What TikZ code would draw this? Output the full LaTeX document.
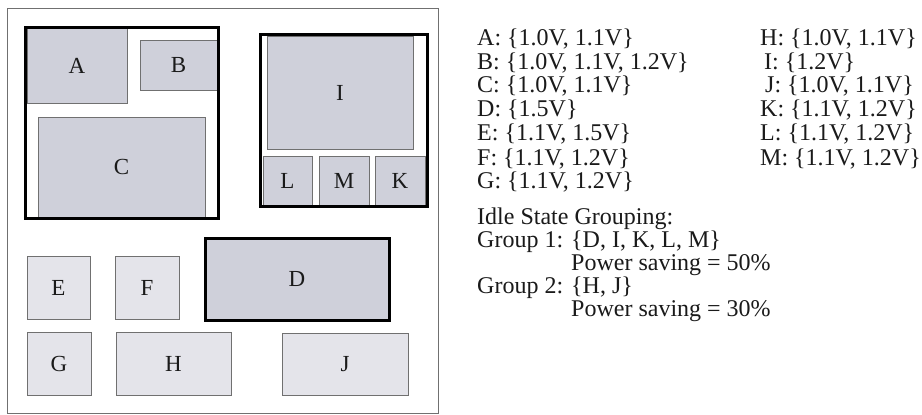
\documentclass[tikz,border=0pt]{standalone}
\usepackage{fontspec}
\setmainfont{Liberation Serif}
\definecolor{darkfill}{HTML}{CFD0DA}
\definecolor{lightfill}{HTML}{E4E4EA}
\definecolor{thinline}{HTML}{707070}
\definecolor{ink}{HTML}{1A1A1A}
\begin{document}
\begin{tikzpicture}[x=1pt,y=-1pt,
  blk/.style={draw=thinline, line width=0.8pt, inner sep=0pt, outer sep=0pt, anchor=north west, text=ink, font=\fontsize{23}{23}\selectfont},
  dk/.style={blk, fill=darkfill},
  lt/.style={blk, fill=lightfill},
  grp/.style={draw=black, line width=3pt, inner sep=0pt, outer sep=0pt, anchor=north west},
  txt/.style={anchor=west, inner sep=0pt, text=ink, font=\fontsize{24}{24}\selectfont}]
\useasboundingbox (0,0) rectangle (922,415);
\node[draw=thinline, line width=1pt, minimum width=431pt, minimum height=405pt, anchor=north west, inner sep=0pt] (frame) at (7,8) {};
% group 1
\node[dk, minimum width=100pt, minimum height=75pt] (A) at (27,28) {A};
\node[dk, minimum width=77pt, minimum height=50pt] (B) at (140,40) {B};
\node[dk, minimum width=167pt, minimum height=100pt] (C) at (38,117) {C};
\node[grp, minimum width=193pt, minimum height=191pt] (G1) at (25,27) {};
% group 2
\node[dk, minimum width=146pt, minimum height=113pt] (I) at (267,36) {I};
\node[dk, minimum width=49pt, minimum height=49pt] (L) at (263,156) {L};
\node[dk, minimum width=50pt, minimum height=49pt] (M) at (319,156) {M};
\node[dk, minimum width=50pt, minimum height=49pt] (K) at (375,156) {K};
\node[grp, minimum width=167pt, minimum height=172pt] (G2) at (260,34) {};
% D
\node[dk, draw=black, line width=3pt, minimum width=184pt, minimum height=82pt] (D) at (205,238) {D};
% light
\node[lt, minimum width=63pt, minimum height=63pt] (E) at (27,256) {E};
\node[lt, minimum width=64pt, minimum height=63pt] (F) at (115,256) {F};
\node[lt, minimum width=64pt, minimum height=63pt] (G) at (27,332) {G};
\node[lt, minimum width=115pt, minimum height=63pt] (H) at (116,332) {H};
\node[lt, minimum width=126pt, minimum height=62pt] (J) at (282,333) {J};
% text
\node[txt] (tA) at (477,39) {A: \{1.0V, 1.1V\}};
\node[txt] (tB) at (477,63) {B: \{1.0V, 1.1V, 1.2V\}};
\node[txt] (tC) at (477,86) {C: \{1.0V, 1.1V\}};
\node[txt] (tD) at (477,110) {D: \{1.5V\}};
\node[txt] (tE) at (477,134) {E: \{1.1V, 1.5V\}};
\node[txt] (tF) at (477,159) {F: \{1.1V, 1.2V\}};
\node[txt] (tG) at (477,182) {G: \{1.1V, 1.2V\}};
\node[txt] (tH) at (760,39) {H: \{1.0V, 1.1V\}};
\node[txt] (tI) at (764,63) {I: \{1.2V\}};
\node[txt] (tJ) at (765,86) {J: \{1.0V, 1.1V\}};
\node[txt] (tK) at (760,110) {K: \{1.1V, 1.2V\}};
\node[txt] (tL) at (760,134) {L: \{1.1V, 1.2V\}};
\node[txt] (tM) at (760,159) {M: \{1.1V, 1.2V\}};
\node[txt] (idle) at (477,219) {Idle State Grouping:};
\node[txt] (g1) at (477,242) {Group 1: \{D, I, K, L, M\}};
\node[txt] (p1) at (571,265) {Power saving = 50\%};
\node[txt] (g2) at (477,288) {Group 2: \{H, J\}};
\node[txt] (p2) at (571,311) {Power saving = 30\%};
\end{tikzpicture}
\end{document}
